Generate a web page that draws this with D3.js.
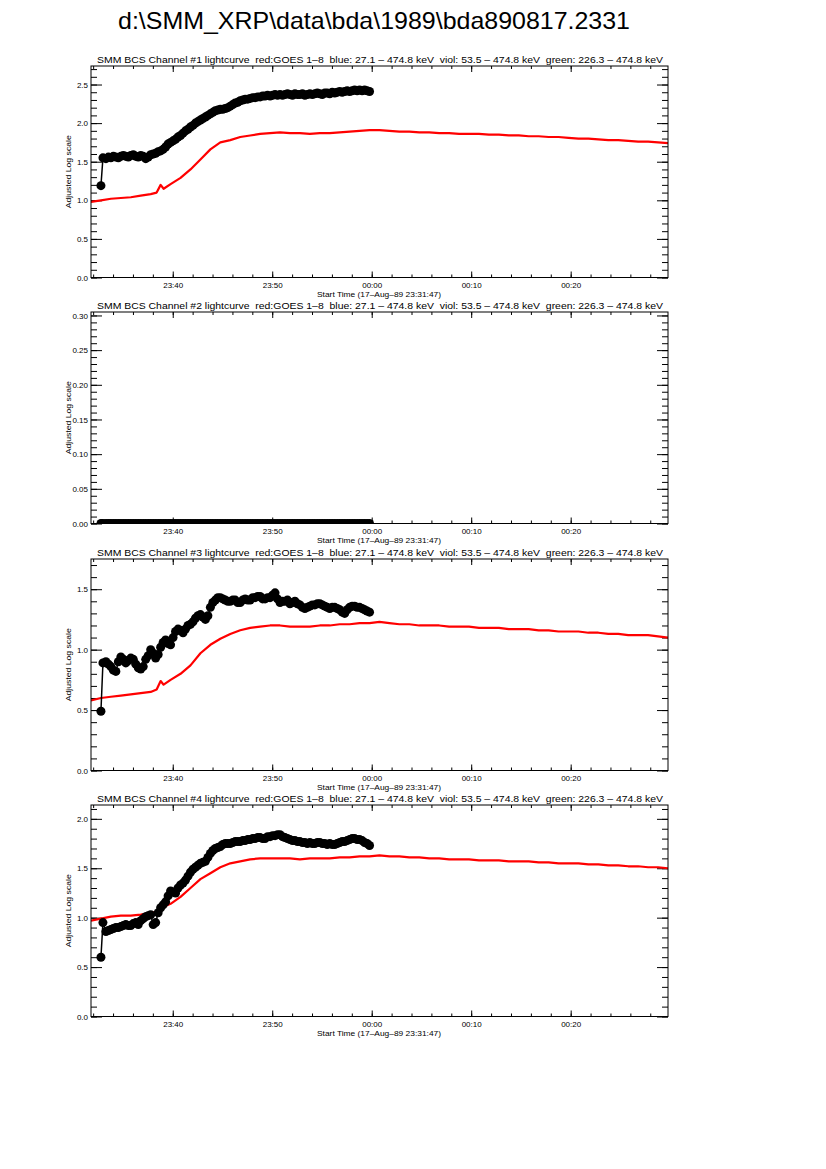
<!DOCTYPE html>
<html><head><meta charset="utf-8">
<script src="https://cdn.jsdelivr.net/npm/d3@7"></script>
<style>body{margin:0;background:#fff} svg{display:block} text{font-family:"Liberation Sans",Arial,sans-serif;fill:#000}</style>
</head><body><svg id="c" width="826" height="1169"></svg>
<script>
const mainTitle = "d:\\SMM_XRP\\data\\bda\\1989\\bda890817.2331";
const panelTitles = [
  "SMM BCS Channel #1 lightcurve  red:GOES 1\u20138  blue: 27.1 \u2013 474.8 keV  viol: 53.5 \u2013 474.8 keV  green: 226.3 \u2013 474.8 keV",
  "SMM BCS Channel #2 lightcurve  red:GOES 1\u20138  blue: 27.1 \u2013 474.8 keV  viol: 53.5 \u2013 474.8 keV  green: 226.3 \u2013 474.8 keV",
  "SMM BCS Channel #3 lightcurve  red:GOES 1\u20138  blue: 27.1 \u2013 474.8 keV  viol: 53.5 \u2013 474.8 keV  green: 226.3 \u2013 474.8 keV",
  "SMM BCS Channel #4 lightcurve  red:GOES 1\u20138  blue: 27.1 \u2013 474.8 keV  viol: 53.5 \u2013 474.8 keV  green: 226.3 \u2013 474.8 keV"
];
const xAxisTitle = "Start Time (17\u2013Aug\u201389 23:31:47)";
const yAxisTitle = "Adjusted Log scale";
const startTime = "1989-08-17T23:31:47Z";
const endTime = "1989-08-18T00:29:47Z";
const xTickFormat = "%H:%M";
const yMax = [2.74, 0.305, 1.75, 2.14];
const yMajorStep = [0.5, 0.05, 0.5, 0.5];
const yMinorStep = [0.1, 0.01, 0.1, 0.1];
const yTickFormat = [".1f", ".2f", ".1f", ".1f"];

// BCS samples: minutes after start time
const bcsMinutes = [1.0,1.2,1.5,1.75,
  2,2.25,2.5,2.75, 3,3.25,3.5,3.75, 4,4.25,4.5,4.75, 5,5.25,5.5,5.75, 6,6.25,6.5,6.75,
  7,7.25,7.5,7.75, 8,8.25,8.5,8.75, 9,9.25,9.5,9.75, 10,10.25,10.5,10.75, 11,11.25,11.5,11.75,
  12,12.25,12.5,12.75, 13,13.25,13.5,13.75, 14,14.25,14.5,14.75, 15,15.25,15.5,15.75, 16,16.25,16.5,16.75,
  17,17.25,17.5,17.75, 18,18.25,18.5,18.75, 19,19.25,19.5,19.75, 20,20.25,20.5,20.75, 21,21.25,21.5,21.75,
  22,22.25,22.5,22.75, 23,23.25,23.5,23.75, 24,24.25,24.5,24.75, 25,25.25,25.5,25.75, 26,26.25,26.5,26.75,
  27,27.25,27.5,27.75, 28];
const bcs1 = [1.19,1.55,1.54,1.56,
  1.55,1.57,1.56,1.55, 1.57,1.58,1.57,1.56, 1.58,1.59,1.57,1.56, 1.58,1.57,1.54,1.56, 1.59,1.60,1.61,1.63,
  1.64,1.66,1.69,1.73, 1.75,1.77,1.79,1.82, 1.84,1.87,1.90,1.92, 1.95,1.97,2.00,2.02, 2.04,2.06,2.08,2.10,
  2.12,2.14,2.16,2.17, 2.18,2.18,2.19,2.20, 2.22,2.24,2.26,2.27, 2.29,2.30,2.31,2.31, 2.32,2.33,2.33,2.34,
  2.34,2.35,2.35,2.36, 2.35,2.36,2.37,2.36, 2.37,2.36,2.37,2.38, 2.37,2.36,2.38,2.37, 2.37,2.38,2.36,2.37,
  2.38,2.37,2.38,2.39, 2.38,2.37,2.39,2.39, 2.38,2.40,2.39,2.40, 2.41,2.40,2.41,2.42, 2.41,2.42,2.43,2.42,
  2.43,2.42,2.43,2.42, 2.41];
const bcs2 = [0,0,0,0,
  0,0,0,0, 0,0,0,0, 0,0,0,0, 0,0,0,0, 0,0,0,0,
  0,0,0,0, 0,0,0,0, 0,0,0,0, 0,0,0,0, 0,0,0,0,
  0,0,0,0, 0,0,0,0, 0,0,0,0, 0,0,0,0, 0,0,0,0,
  0,0,0,0, 0,0,0,0, 0,0,0,0, 0,0,0,0, 0,0,0,0,
  0,0,0,0, 0,0,0,0, 0,0,0,0, 0,0,0,0, 0,0,0,0,
  0,0,0,0, 0];
const bcs3 = [0.49,0.89,0.90,0.88,
  0.86,0.83,0.82,0.90, 0.94,0.92,0.89,0.91, 0.93,0.92,0.88,0.85, 0.84,0.86,0.92,0.95, 1.00,0.97,0.93,0.96,
  1.02,1.06,1.08,1.05, 1.04,1.10,1.15,1.17, 1.16,1.14,1.17,1.20, 1.21,1.23,1.26,1.28, 1.29,1.27,1.25,1.28,
  1.35,1.39,1.41,1.43, 1.43,1.42,1.41,1.40, 1.40,1.41,1.41,1.39, 1.39,1.41,1.42,1.41, 1.41,1.43,1.43,1.44,
  1.44,1.42,1.42,1.43, 1.43,1.45,1.47,1.42, 1.39,1.40,1.40,1.41, 1.38,1.39,1.40,1.38, 1.37,1.35,1.34,1.35,
  1.36,1.37,1.37,1.38, 1.38,1.37,1.36,1.35, 1.34,1.35,1.35,1.34, 1.33,1.31,1.30,1.33, 1.35,1.36,1.36,1.35,
  1.35,1.34,1.33,1.32, 1.31];
const bcs4 = [0.60,0.95,0.86,0.87,
  0.88,0.89,0.90,0.90, 0.91,0.92,0.93,0.92, 0.92,0.94,0.95,0.93, 0.97,0.99,1.01,1.02, 1.03,0.93,0.95,1.05,
  1.10,1.13,1.16,1.22, 1.27,1.26,1.25,1.30, 1.33,1.35,1.38,1.42, 1.46,1.49,1.51,1.53, 1.55,1.56,1.57,1.61,
  1.65,1.68,1.70,1.71, 1.72,1.74,1.75,1.75, 1.75,1.76,1.77,1.77, 1.77,1.78,1.78,1.79, 1.79,1.80,1.80,1.81,
  1.81,1.80,1.80,1.82, 1.82,1.83,1.83,1.84, 1.84,1.82,1.81,1.80, 1.79,1.78,1.78,1.77, 1.77,1.76,1.76,1.75,
  1.76,1.75,1.75,1.76, 1.76,1.75,1.75,1.74, 1.75,1.74,1.74,1.75, 1.76,1.77,1.77,1.78, 1.79,1.80,1.80,1.79,
  1.79,1.78,1.76,1.75, 1.73];

// GOES 1-8 samples: minutes after start time
const goesMinutes = [0,1,2,3,4,5,6,6.6,7.0,7.3,8,9,10,11,12,13,14,15,16,17,18,19,20,21,22,23,24,25,26,27,28,29,
  30,31,32,33,34,35,36,37,38,39,40,41,42,43,44,45,46,47,48,49,50,51,52,53,54,55,56,57,58];
const goes1 = [0.98,1.00,1.02,1.03,1.04,1.06,1.08,1.10,1.20,1.15,1.21,1.29,1.40,1.53,1.66,1.75,1.78,1.82,1.84,1.86,
  1.87,1.88,1.87,1.87,1.86,1.87,1.87,1.88,1.89,1.90,1.91,1.91,1.90,1.89,1.89,1.88,1.88,1.87,1.87,1.86,
  1.86,1.86,1.85,1.85,1.84,1.84,1.83,1.83,1.82,1.82,1.81,1.80,1.80,1.79,1.78,1.78,1.77,1.76,1.76,1.75,1.74];
const goes2 = [];
const goes3 = [0.58,0.60,0.61,0.62,0.63,0.64,0.65,0.67,0.74,0.71,0.75,0.80,0.87,0.97,1.04,1.09,1.13,1.16,1.18,1.19,
  1.20,1.20,1.19,1.19,1.19,1.20,1.20,1.21,1.21,1.22,1.22,1.23,1.22,1.21,1.21,1.20,1.20,1.20,1.19,1.19,
  1.19,1.18,1.18,1.18,1.17,1.17,1.17,1.16,1.16,1.15,1.15,1.15,1.14,1.14,1.13,1.13,1.12,1.12,1.12,1.11,1.10];
const goes4 = [0.97,0.99,1.01,1.02,1.02,1.03,1.05,1.06,1.14,1.11,1.14,1.21,1.30,1.39,1.45,1.51,1.55,1.57,1.59,1.60,
  1.60,1.60,1.60,1.59,1.60,1.60,1.60,1.61,1.61,1.62,1.62,1.63,1.62,1.62,1.61,1.61,1.60,1.60,1.59,1.59,
  1.59,1.58,1.58,1.58,1.57,1.57,1.57,1.56,1.56,1.55,1.55,1.55,1.54,1.54,1.53,1.53,1.52,1.52,1.51,1.51,1.50];

const bcsSeries = [bcs1, bcs2, bcs3, bcs4];
const goesSeries = [goes1, goes2, goes3, goes4];

// ---- layout ----
const svg = d3.select("#c");
const L = 91, R = 668, H = 211.5;
const tops = [66, 312, 559, 805];
const t0 = new Date(startTime), t1 = new Date(endTime);
const toDate = m => new Date(t0.getTime() + m * 60000);
const x = d3.scaleUtc().domain([t0, t1]).range([L, R]);
const majorX = d3.utcMinute.every(10).range(t0, t1);
const minorX = d3.utcMinute.every(2).range(t0, t1);

svg.append("text").attr("x", 118).attr("y", 29).attr("font-size", 24)
  .attr("textLength", 512).attr("lengthAdjust", "spacingAndGlyphs").text(mainTitle);

tops.forEach((top, i) => {
  const bottom = top + H;
  const y = d3.scaleLinear().domain([0, yMax[i]]).range([bottom, top]);
  const g = svg.append("g");
  const cid = "clip" + i;
  g.append("clipPath").attr("id", cid).append("rect")
    .attr("x", L).attr("y", top).attr("width", R - L).attr("height", H);

  const nMaj = Math.floor(yMax[i] / yMajorStep[i] + 1e-6);
  const nMin = Math.floor(yMax[i] / yMinorStep[i] + 1e-6);
  const majY = d3.range(nMaj + 1).map(k => +(k * yMajorStep[i]).toFixed(4));
  const minY = d3.range(nMin + 1).map(k => +(k * yMinorStep[i]).toFixed(4));

  g.append("g").attr("transform", `translate(${L},0)`)
    .call(d3.axisLeft(y).tickValues(majY).tickSizeInner(-11).tickSizeOuter(0).tickPadding(3).tickFormat(d3.format(yTickFormat[i])));
  g.append("g").attr("transform", `translate(${L},0)`)
    .call(d3.axisLeft(y).tickValues(minY).tickSizeInner(-6).tickSizeOuter(0).tickFormat(""));
  g.append("g").attr("transform", `translate(${R},0)`)
    .call(d3.axisLeft(y).tickValues(majY).tickSizeInner(11).tickSizeOuter(0).tickFormat(""));
  g.append("g").attr("transform", `translate(${R},0)`)
    .call(d3.axisLeft(y).tickValues(minY).tickSizeInner(6).tickSizeOuter(0).tickFormat(""));
  const axB = g.append("g").attr("transform", `translate(0,${bottom})`)
    .call(d3.axisBottom(x).tickValues(majorX).tickSizeInner(-6).tickSizeOuter(0).tickPadding(5).tickFormat(d3.utcFormat(xTickFormat)));
  g.append("g").attr("transform", `translate(0,${bottom})`)
    .call(d3.axisBottom(x).tickValues(minorX).tickSizeInner(-3).tickSizeOuter(0).tickFormat(""));
  g.append("g").attr("transform", `translate(0,${top})`)
    .call(d3.axisTop(x).tickValues(majorX).tickSizeInner(-6).tickSizeOuter(0).tickFormat(""));
  g.append("g").attr("transform", `translate(0,${top})`)
    .call(d3.axisTop(x).tickValues(minorX).tickSizeInner(-3).tickSizeOuter(0).tickFormat(""));
  g.selectAll(".domain").remove();
  g.selectAll(".tick line").attr("stroke", "#000").attr("stroke-width", 1);
  g.selectAll(".tick text").attr("font-family", "Liberation Sans, Arial, sans-serif").attr("font-size", 8).attr("fill", "#000");

  const goes = goesSeries[i];
  if (goes.length) {
    const pts = goesMinutes.map((m, k) => [toDate(m), goes[k]]);
    g.append("path").attr("clip-path", `url(#${cid})`)
      .attr("d", d3.line().x(d => x(d[0])).y(d => y(d[1]))(pts))
      .attr("fill", "none").attr("stroke", "#ff0000").attr("stroke-width", 2.2).attr("stroke-linejoin", "round");
  }
  const bcs = bcsSeries[i];
  const bpts = bcsMinutes.map((m, k) => [toDate(m), bcs[k]]);
  const dg = g.append("g").attr("clip-path", `url(#${cid})`);
  dg.append("path").attr("d", d3.line().x(d => x(d[0])).y(d => y(d[1]))(bpts))
    .attr("fill", "none").attr("stroke", "#000").attr("stroke-width", 1.5);
  dg.selectAll("circle").data(bpts).join("circle")
    .attr("cx", d => x(d[0])).attr("cy", d => y(d[1])).attr("r", 4.5).attr("fill", "#000");

  g.append("rect").attr("x", L).attr("y", top).attr("width", R - L).attr("height", H)
    .attr("fill", "none").attr("stroke", "#000").attr("stroke-width", 1);

  g.append("text").attr("x", 97).attr("y", top - 3.5).attr("font-size", 9)
    .attr("textLength", 566).attr("lengthAdjust", "spacingAndGlyphs")
    .style("white-space", "pre").text(panelTitles[i]);
  g.append("text").attr("x", 379).attr("y", bottom + 19).attr("font-size", 7.5)
    .attr("text-anchor", "middle").attr("textLength", 124).attr("lengthAdjust", "spacingAndGlyphs")
    .text(xAxisTitle);
  g.append("text").attr("transform", `translate(70.5,${(top + bottom) / 2}) rotate(-90)`)
    .attr("font-size", 7.5).attr("text-anchor", "middle")
    .attr("textLength", 73).attr("lengthAdjust", "spacingAndGlyphs").text(yAxisTitle);
});
</script></body></html>
